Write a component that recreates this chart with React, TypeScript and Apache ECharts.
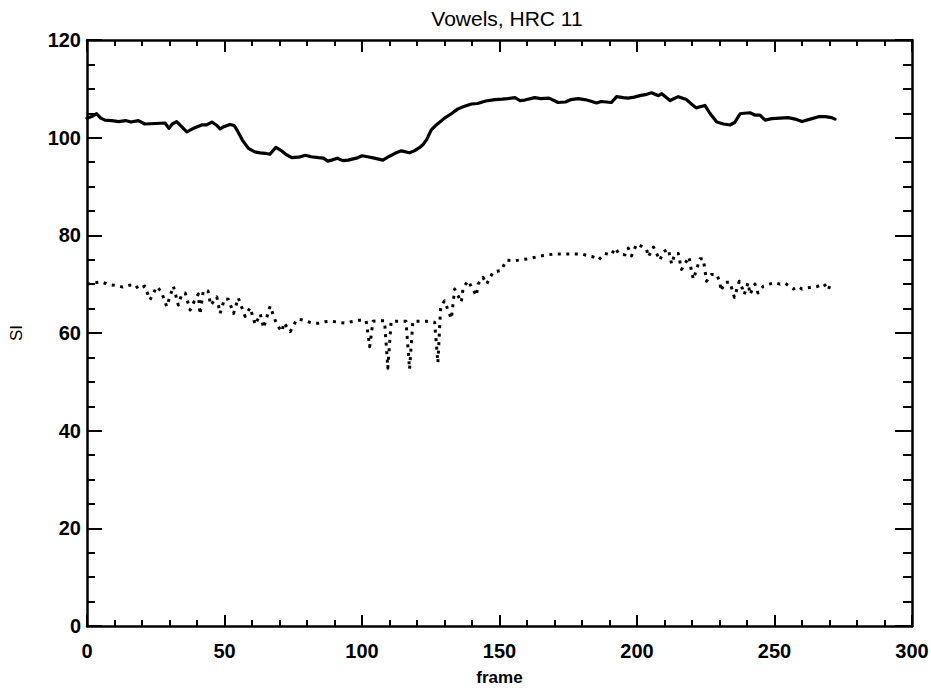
import React, { useEffect, useRef } from "react";
import * as echarts from "echarts";

const solidFrames = [0, 2, 3.5, 5, 6.5, 9, 11.5, 14, 16, 18.7, 21, 25, 28.4, 29.8, 31, 32.6, 34.5, 36.3, 39, 41.7, 43.5, 45.4, 47, 48.4, 50, 52, 53.5, 54.5, 56.5, 58.7, 61, 63, 64.8, 66.5, 68.7, 70.5, 72.5, 74.5, 77, 79.4, 81.5, 84.2, 86, 87.5, 89, 91, 93, 95, 96.4, 98, 100, 102, 104.5, 107.6, 110, 112, 114.3, 117.3, 119, 121, 122.2, 123.5, 125.2, 127, 130, 132.5, 134.9, 137, 139.8, 142, 145, 148.3, 151, 153, 155.6, 157.5, 159.2, 162.8, 165, 168, 171.3, 174, 176, 178.6, 181, 183, 185.3, 187, 190.7, 192.6, 195, 196.8, 199, 201, 203, 205.3, 207.8, 209, 212, 215, 218, 220, 221.5, 224.7, 226.5, 229, 231.5, 233.8, 235.5, 237.5, 239, 241.1, 243, 244.7, 246.6, 249, 252, 255, 257.5, 260, 263, 266, 268.5, 270.8, 272];
const solidValues = [104.0, 104.4, 104.9, 104.0, 103.6, 103.5, 103.3, 103.5, 103.2, 103.5, 102.8, 102.9, 103.0, 101.9, 102.8, 103.3, 102.2, 101.2, 102.0, 102.6, 102.6, 103.2, 102.6, 101.8, 102.3, 102.7, 102.5, 101.6, 99.5, 97.8, 97.1, 96.9, 96.8, 96.6, 98.0, 97.4, 96.5, 95.9, 96.0, 96.4, 96.1, 95.9, 95.8, 95.2, 95.4, 95.8, 95.3, 95.4, 95.6, 95.8, 96.3, 96.1, 95.8, 95.4, 96.2, 96.8, 97.3, 96.9, 97.3, 98.0, 98.6, 99.6, 101.6, 102.6, 104.0, 104.9, 105.9, 106.4, 106.9, 107.0, 107.5, 107.8, 107.9, 108.0, 108.2, 107.6, 107.7, 108.2, 108.0, 108.1, 107.2, 107.3, 107.8, 108.0, 107.8, 107.5, 107.1, 107.4, 107.2, 108.4, 108.2, 108.1, 108.3, 108.6, 108.8, 109.2, 108.6, 109.0, 107.6, 108.4, 107.8, 106.8, 106.1, 106.6, 105.0, 103.2, 102.8, 102.6, 103.1, 104.9, 105.0, 105.1, 104.6, 104.6, 103.6, 103.9, 104.0, 104.1, 103.8, 103.3, 103.8, 104.3, 104.3, 104.1, 103.8];

const dotFrames = [0, 2, 5, 8, 11, 13, 15.5, 17.5, 18.7, 21, 22.9, 25.4, 27, 29, 31.4, 33.2, 34.5, 35.7, 37.5, 39, 40.5, 41.1, 42.3, 44, 45, 47.2, 48.4, 50, 51.4, 53.3, 55, 57.5, 59.3, 61.2, 63, 64.2, 66.6, 69, 70.9, 71.6, 73.9, 76.3, 78, 80, 82, 84.2, 86.5, 89, 91.5, 93.9, 96, 98, 100, 101.5, 102.8, 104, 106, 108.2, 109.4, 110.6, 113.6, 116, 117.3, 118.5, 120.5, 123.5, 126.4, 127.6, 128.6, 130, 132.5, 133.7, 136.1, 136.8, 138.6, 141.6, 142.2, 144, 145.3, 147.7, 150.6, 152.5, 155.5, 158, 160.4, 163, 165.3, 167.5, 170.1, 172.5, 175, 177.5, 179.8, 182.3, 184, 186.1, 188.2, 190.7, 192, 193.5, 195.6, 196.8, 198, 199.9, 201.5, 203.5, 204.1, 206, 208.3, 209.5, 211.4, 212.6, 213.8, 215, 216.2, 218.9, 219.9, 220.5, 222.9, 224.1, 225.3, 227, 229, 230.2, 230.5, 232, 233.8, 235.4, 237.2, 238.4, 239, 240.4, 241.1, 242.9, 244, 245.9, 248, 250.2, 252, 253.8, 256.9, 258.5, 260, 263.6, 265.5, 267.9, 269.6, 270.2, 271];
const dotValues = [70.0, 70.2, 70.5, 69.9, 69.7, 69.4, 69.8, 69.9, 69.0, 69.6, 66.8, 69.5, 68.5, 65.4, 69.6, 65.7, 68.0, 68.2, 64.7, 66.5, 68.0, 63.8, 68.7, 68.6, 65.7, 67.4, 64.0, 67.0, 66.9, 64.0, 67.2, 63.4, 65.2, 61.7, 63.9, 61.0, 65.5, 61.7, 60.3, 62.1, 60.3, 62.8, 62.7, 62.4, 62.0, 62.0, 62.3, 62.4, 62.2, 62.0, 62.3, 62.5, 62.7, 62.5, 57.2, 62.4, 62.5, 62.5, 52.8, 62.4, 62.4, 62.4, 52.6, 62.4, 62.4, 62.4, 62.2, 53.9, 65.3, 66.6, 62.9, 69.0, 66.3, 69.3, 70.7, 67.6, 70.0, 71.4, 70.0, 72.5, 72.8, 74.9, 74.8, 75.0, 75.2, 75.5, 75.8, 76.0, 76.2, 76.2, 76.2, 76.2, 76.2, 75.8, 75.6, 75.0, 76.3, 76.0, 77.4, 76.2, 76.0, 77.4, 75.8, 78.2, 77.8, 77.1, 75.6, 77.6, 74.9, 76.6, 77.2, 74.1, 76.3, 76.3, 73.0, 75.6, 72.4, 71.0, 75.2, 75.2, 70.6, 72.0, 72.0, 70.3, 68.6, 70.4, 70.4, 67.3, 70.6, 69.0, 67.9, 70.3, 67.9, 70.0, 68.2, 69.6, 70.0, 70.3, 70.0, 70.2, 69.0, 69.5, 69.0, 69.4, 69.5, 70.1, 68.8, 69.9, 69.5];

const titleText = "Vowels, HRC 11";
const xName = "frame";
const yName = "SI";

const FONT = "'Liberation Sans', Arial, Helvetica, sans-serif";

export default function App() {
  const ref = useRef<HTMLDivElement>(null);
  useEffect(() => {
    document.body.style.margin = "0";
    if (!ref.current) return;
    const chart = echarts.init(ref.current, null, { renderer: "svg" });
    const pair = (xs: number[], ys: number[]) => xs.map((x, i) => [x, ys[i]]);
    const axisLine = { show: true, onZero: false, lineStyle: { color: "#000", width: 2.5 } };
    chart.setOption({
      animation: false,
      backgroundColor: "#fff",
      textStyle: { fontFamily: FONT },
      grid: { left: 87, right: 19, top: 40, bottom: 62, containLabel: false, outerBoundsMode: "none" },
      graphic: [
        {
          type: "text",
          x: 507,
          y: 18,
          style: {
            text: titleText,
            textAlign: "center",
            textVerticalAlign: "middle",
            font: "21px 'Liberation Sans', Arial, sans-serif",
            fill: "#000",
          },
        },
      ],
      xAxis: [
        {
          type: "value",
          min: 0,
          max: 300,
          interval: 50,
          position: "bottom",
          axisLine,
          axisTick: { show: true, inside: true, length: 11, lineStyle: { color: "#000", width: 2 } },
          minorTick: { show: true, splitNumber: 5, length: 6, lineStyle: { color: "#000", width: 2 } },
          splitLine: { show: false },
          axisLabel: { color: "#000", fontSize: 20, fontWeight: "bold", margin: 15, fontFamily: FONT },
          name: xName,
          nameLocation: "middle",
          nameGap: 43,
          nameTextStyle: { color: "#000", fontSize: 17, fontWeight: "bold", fontFamily: FONT },
        },
        {
          type: "value",
          min: 0,
          max: 300,
          interval: 50,
          position: "top",
          axisLine,
          axisTick: { show: true, inside: true, length: 12, lineStyle: { color: "#000", width: 2 } },
          minorTick: { show: true, splitNumber: 5, length: 6, lineStyle: { color: "#000", width: 2 } },
          splitLine: { show: false },
          axisLabel: { show: false },
        },
      ],
      yAxis: [
        {
          type: "value",
          min: 0,
          max: 120,
          interval: 20,
          position: "left",
          axisLine,
          axisTick: { show: true, inside: true, length: 15, lineStyle: { color: "#000", width: 2 } },
          minorTick: { show: true, splitNumber: 4, length: 8, lineStyle: { color: "#000", width: 2 } },
          splitLine: { show: false },
          axisLabel: { color: "#000", fontSize: 20, fontWeight: "bold", margin: 6, fontFamily: FONT },
          name: yName,
          nameLocation: "middle",
          nameGap: 62,
          nameTextStyle: { color: "#000", fontSize: 17, fontFamily: FONT },
        },
        {
          type: "value",
          min: 0,
          max: 120,
          interval: 20,
          position: "right",
          axisLine,
          axisTick: { show: true, inside: true, length: 17, lineStyle: { color: "#000", width: 2 } },
          minorTick: { show: true, splitNumber: 4, length: 9, lineStyle: { color: "#000", width: 2 } },
          splitLine: { show: false },
          axisLabel: { show: false },
        },
      ],
      series: [
        {
          type: "line",
          data: pair(solidFrames, solidValues),
          showSymbol: false,
          symbol: "none",
          lineStyle: { color: "#000", width: 3.2, join: "round", cap: "round" },
          silent: true,
        },
        {
          type: "line",
          data: pair(dotFrames, dotValues),
          showSymbol: false,
          symbol: "none",
          lineStyle: { color: "#000", width: 3, type: [3, 5.5], join: "round" },
          silent: true,
        },
      ],
    });
    return () => chart.dispose();
  }, []);
  return <div ref={ref} style={{ width: 931, height: 688 }} />;
}
